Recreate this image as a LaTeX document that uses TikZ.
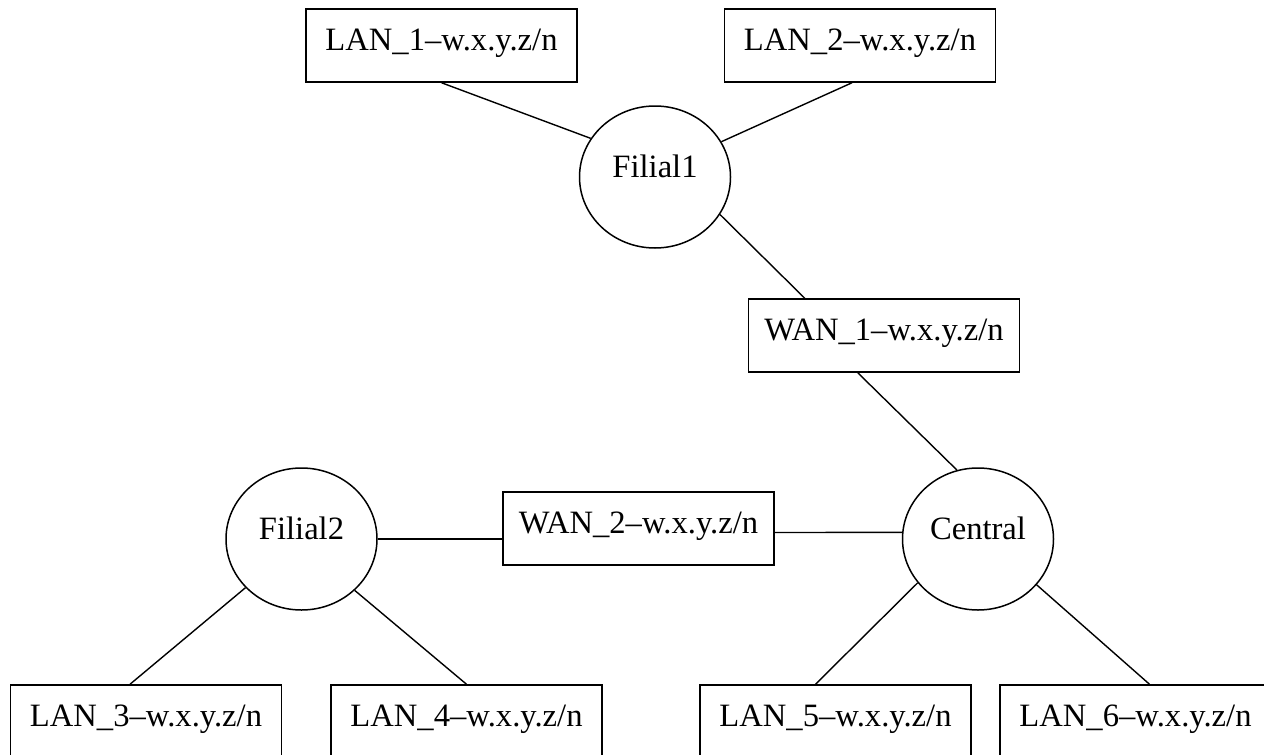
\documentclass[tikz,border=0pt]{standalone}
\usepackage{fontspec}
\setmainfont{Liberation Serif}
\usetikzlibrary{shapes.geometric}
\tikzset{
  netbox/.style={draw,line width=0.75pt,minimum width=135.5pt,minimum height=36.5pt,
    inner sep=0pt,text height=20.5pt,text depth=16pt},
  site/.style={draw,ellipse,line width=0.75pt,minimum width=75.5pt,minimum height=71pt,
    inner sep=0pt,text height=11pt,text depth=11pt},
  link/.style={line width=0.7pt}
}
\begin{document}
\begin{tikzpicture}[x=0.5pt,y=-0.5pt,font=\fontsize{16.3}{19}\selectfont]
        \useasboundingbox (0,0) rectangle (1264,755);
        % sites
        \node[site] (filial1) at (655,177) {Filial1};
        \node[site] (filial2) at (301.5,539) {Filial2};
        \node[site] (central) at (978,539) {Central};
        % networks
        \node[netbox] (lan1) at (441.5,45.5) {LAN\_1--w.x.y.z/n};
        \node[netbox] (lan2) at (860,45.5) {LAN\_2--w.x.y.z/n};
        \node[netbox] (wan1) at (884,335.5) {WAN\_1--w.x.y.z/n};
        \node[netbox] (wan2) at (638.5,528.5) {WAN\_2--w.x.y.z/n};
        \node[netbox] (lan3) at (146,721.5) {LAN\_3--w.x.y.z/n};
        \node[netbox] (lan4) at (466.5,721.5) {LAN\_4--w.x.y.z/n};
        \node[netbox] (lan5) at (835.5,721.5) {LAN\_5--w.x.y.z/n};
        \node[netbox] (lan6) at (1135.5,721.5) {LAN\_6--w.x.y.z/n};
        % links
        \draw[link] (lan1.south) -- (filial1.149);
        \draw[link] ([xshift=-4pt]lan2.south) -- (filial1.28);
        \draw[link] (filial1.-30) -- ([xshift=28.5pt]wan1.north west);
        \draw[link] ([xshift=55pt]wan1.south west) -- (central.107);
        \draw[link] (filial2.east) -- (filial2.east -| wan2.west);
        \draw[link] ([yshift=-2pt]wan2.east) -- (central.175);
        \draw[link] (filial2.221) -- ([xshift=-8pt]lan3.north);
        \draw[link] (filial2.-44) -- (lan4.north);
        \draw[link] (central.216) -- ([xshift=-10pt]lan5.north);
        \draw[link] (central.-38.5) -- ([xshift=7pt]lan6.north);
      \end{tikzpicture}
\end{document}
